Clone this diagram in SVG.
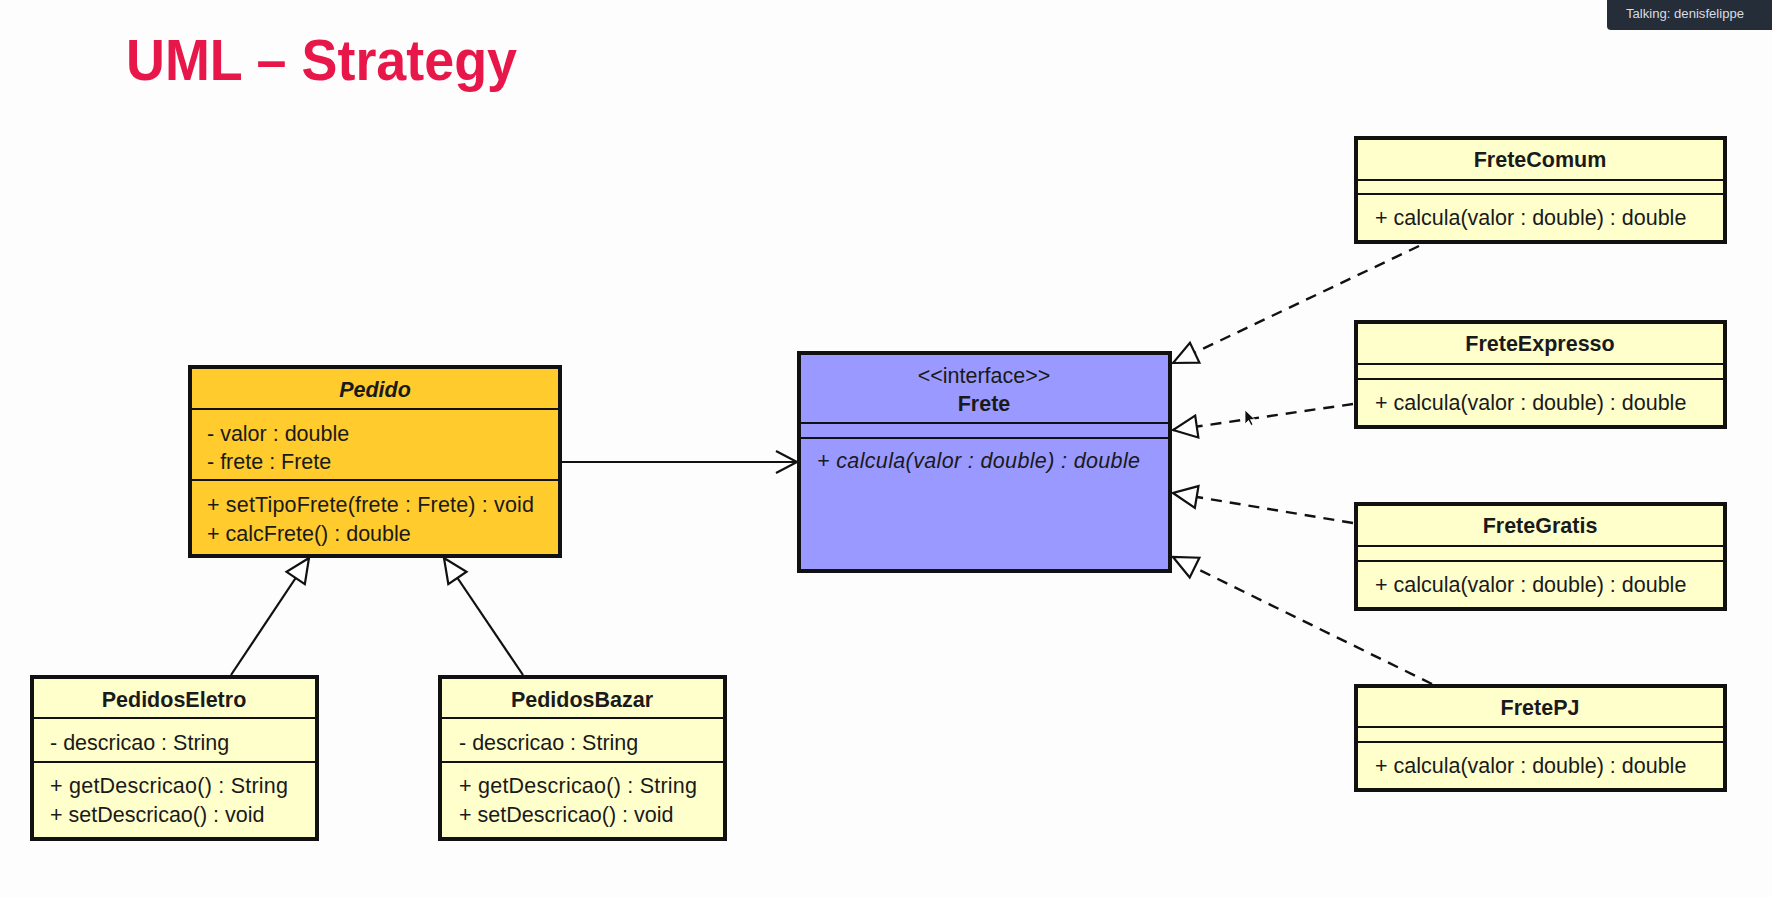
<svg xmlns="http://www.w3.org/2000/svg" width="1772" height="897" viewBox="0 0 1772 897">
<style>
  text { font-family: "Liberation Sans", Arial, sans-serif; fill: #1a1a1a; }
  .t { font-size: 21.5px; }
  .name { font-size: 21.5px; font-weight: bold; text-anchor: middle; }
  .box { stroke: #111; stroke-width: 4; }
  .sep { stroke: #111; stroke-width: 2; }
  .yel { fill: #FFFFCC; }
  .solid { fill: none; stroke: #111; stroke-width: 2.2; }
  .dash { fill: none; stroke: #111; stroke-width: 2.4; stroke-dasharray: 11 8; }
</style>
<defs>
  <marker id="tri" markerUnits="userSpaceOnUse" markerWidth="28" markerHeight="26" viewBox="0 0 28 26" refX="26" refY="13" orient="auto">
    <path d="M26,13 L2,2 L2,24 Z" fill="#fff" stroke="#111" stroke-width="2.2" stroke-dasharray="none"/>
  </marker>
  <marker id="open" markerUnits="userSpaceOnUse" markerWidth="26" markerHeight="26" viewBox="0 0 26 26" refX="23" refY="13" orient="auto">
    <path d="M2,2 L23,13 L2,24" fill="none" stroke="#111" stroke-width="2.2"/>
  </marker>
</defs>
<rect x="0" y="0" width="1772" height="897" fill="#FDFDFD"/>

<g id="title">
  <text x="126" y="80" font-family="Roboto, 'Liberation Sans', sans-serif" font-weight="900" font-size="58" textLength="391" lengthAdjust="spacingAndGlyphs" style="fill:#E8174A">UML – Strategy</text>
</g>

<g id="talking-badge">
  <rect x="1607" y="-6" width="172" height="36" rx="4" fill="#252D38"/>
  <text x="1626" y="18" font-family="'Open Sans', sans-serif" font-size="12.5" textLength="118" lengthAdjust="spacingAndGlyphs" style="fill:#D8DDE3">Talking: denisfelippe</text>
</g>

<g id="connectors">
  <path class="solid" d="M562,462 L797,462" marker-end="url(#open)"/>
  <path class="solid" d="M231,675 L309,558" marker-end="url(#tri)"/>
  <path class="solid" d="M523,675 L444,558" marker-end="url(#tri)"/>
  <path class="dash" d="M1419,246 L1173,363" marker-end="url(#tri)"/>
  <path class="dash" d="M1353,404 L1173,430" marker-end="url(#tri)"/>
  <path class="dash" d="M1353,523 L1173,493" marker-end="url(#tri)"/>
  <path class="dash" d="M1432,684 L1173,557" marker-end="url(#tri)"/>
</g>

<g id="Pedido">
  <rect class="box" x="190" y="367" width="370" height="189" fill="#FFCB2D"/>
  <line class="sep" x1="190" y1="409" x2="560" y2="409"/>
  <line class="sep" x1="190" y1="480" x2="560" y2="480"/>
  <text class="name" x="375" y="397" font-style="italic">Pedido</text>
  <text class="t" x="207" y="441">- valor : double</text>
  <text class="t" x="207" y="469">- frete : Frete</text>
  <text class="t" x="207" y="512" textLength="327">+ setTipoFrete(frete : Frete) : void</text>
  <text class="t" x="207" y="541">+ calcFrete() : double</text>
</g>

<g id="Frete">
  <rect class="box" x="799" y="353" width="371" height="218" fill="#9999FF"/>
  <line class="sep" x1="799" y1="423" x2="1170" y2="423"/>
  <line class="sep" x1="799" y1="438" x2="1170" y2="438"/>
  <text class="t" x="984" y="383" text-anchor="middle">&lt;&lt;interface&gt;&gt;</text>
  <text class="name" x="984" y="411">Frete</text>
  <text class="t" x="817" y="468" font-style="italic" font-size="22" textLength="323">+ calcula(valor : double) : double</text>
</g>

<g id="PedidosEletro">
  <rect class="box yel" x="32" y="677" width="285" height="162"/>
  <line class="sep" x1="32" y1="718" x2="317" y2="718"/>
  <line class="sep" x1="32" y1="762" x2="317" y2="762"/>
  <text class="name" x="174" y="707">PedidosEletro</text>
  <text class="t" x="50" y="750">- descricao : String</text>
  <text class="t" x="50" y="793" textLength="238">+ getDescricao() : String</text>
  <text class="t" x="50" y="822">+ setDescricao() : void</text>
</g>

<g id="PedidosBazar">
  <rect class="box yel" x="440" y="677" width="285" height="162"/>
  <line class="sep" x1="440" y1="718" x2="725" y2="718"/>
  <line class="sep" x1="440" y1="762" x2="725" y2="762"/>
  <text class="name" x="582" y="707">PedidosBazar</text>
  <text class="t" x="459" y="750">- descricao : String</text>
  <text class="t" x="459" y="793" textLength="238">+ getDescricao() : String</text>
  <text class="t" x="459" y="822">+ setDescricao() : void</text>
</g>

<g id="FreteComum">
  <rect class="box yel" x="1356" y="138" width="369" height="104"/>
  <line class="sep" x1="1356" y1="180" x2="1725" y2="180"/>
  <line class="sep" x1="1356" y1="194" x2="1725" y2="194"/>
  <text class="name" x="1540" y="167">FreteComum</text>
  <text class="t" x="1375" y="225">+ calcula(valor : double) : double</text>
</g>

<g id="FreteExpresso">
  <rect class="box yel" x="1356" y="322" width="369" height="105"/>
  <line class="sep" x1="1356" y1="364" x2="1725" y2="364"/>
  <line class="sep" x1="1356" y1="379" x2="1725" y2="379"/>
  <text class="name" x="1540" y="351">FreteExpresso</text>
  <text class="t" x="1375" y="410">+ calcula(valor : double) : double</text>
</g>

<g id="FreteGratis">
  <rect class="box yel" x="1356" y="504" width="369" height="105"/>
  <line class="sep" x1="1356" y1="546" x2="1725" y2="546"/>
  <line class="sep" x1="1356" y1="561" x2="1725" y2="561"/>
  <text class="name" x="1540" y="533">FreteGratis</text>
  <text class="t" x="1375" y="592">+ calcula(valor : double) : double</text>
</g>

<g id="FretePJ">
  <rect class="box yel" x="1356" y="686" width="369" height="104"/>
  <line class="sep" x1="1356" y1="727" x2="1725" y2="727"/>
  <line class="sep" x1="1356" y1="742" x2="1725" y2="742"/>
  <text class="name" x="1540" y="715">FretePJ</text>
  <text class="t" x="1375" y="773">+ calcula(valor : double) : double</text>
</g>

<g id="cursor">
  <path d="M1245,410 L1245,424 L1248.5,420.5 L1251,425.5 L1253,424.5 L1250.5,419.5 L1255,419.5 Z" fill="#111" stroke="#fff" stroke-width="0.8"/>
</g>
</svg>
